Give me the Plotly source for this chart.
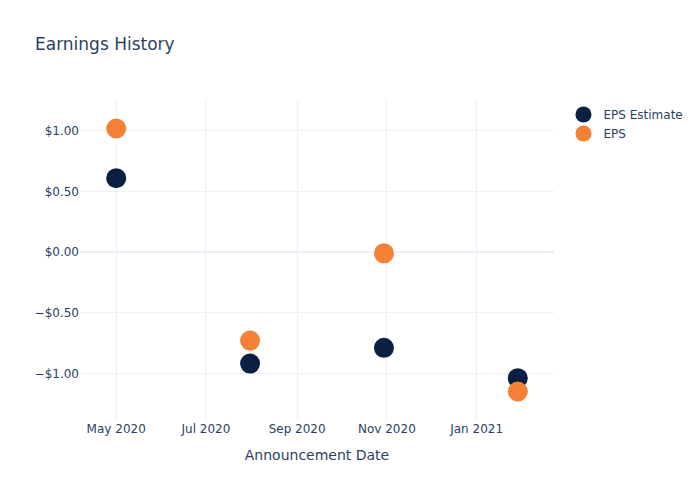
import plotly.graph_objects as go

dates = ["2020-05-01", "2020-07-31", "2020-10-30", "2021-01-29"]
eps_estimate = [0.61, -0.92, -0.79, -1.04]
eps_actual = [1.02, -0.73, -0.01, -1.15]

fig = go.Figure()
fig.add_trace(go.Scatter(x=dates, y=eps_estimate, mode="markers", name="EPS Estimate",
                         marker=dict(color="#0b1f42", size=20)))
fig.add_trace(go.Scatter(x=dates, y=eps_actual, mode="markers", name="EPS",
                         marker=dict(color="#f58137", size=20)))
fig.update_layout(
    template="plotly_white",
    font=dict(family="DejaVu Sans"),
    title=dict(text="Earnings History"),
    width=700, height=500,
    xaxis=dict(title=dict(text="Announcement Date")),
    yaxis=dict(tickformat="$.2f"),
)
fig.write_html("out.html")
